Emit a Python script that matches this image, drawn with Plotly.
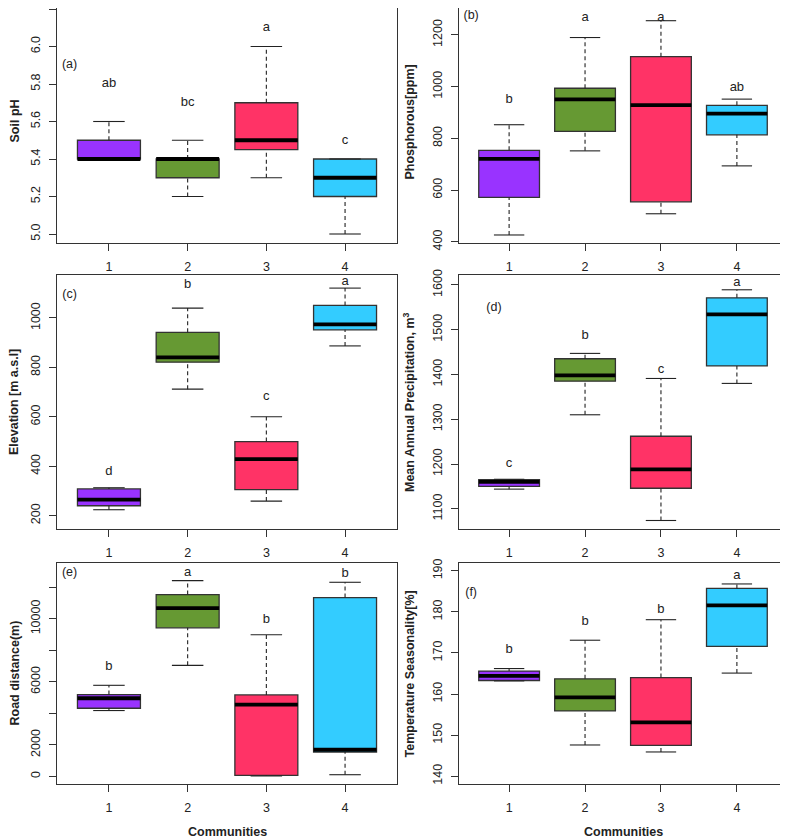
import plotly.graph_objects as go

# community colours
colors = ["#9933FF", "#669933", "#FF3366", "#33CCFF"]
communities = [1, 2, 3, 4]

# box statistics per panel: low whisker, Q1, median, Q3, high whisker
ph_low = [5.4, 5.2, 5.3, 5.0]
ph_q1 = [5.4, 5.3, 5.45, 5.2]
ph_med = [5.4, 5.4, 5.5, 5.3]
ph_q3 = [5.5, 5.4, 5.7, 5.4]
ph_high = [5.6, 5.5, 6.0, 5.4]
ph_letters = ["ab", "bc", "a", "c"]
ph_letter_y = [5.8, 5.7, 6.1, 5.5]

p_low = [427, 752, 509, 694]
p_q1 = [572, 827, 555, 814]
p_med = [721, 951, 929, 896]
p_q3 = [754, 994, 1116, 928]
p_high = [853, 1190, 1255, 952]
p_letters = ["b", "a", "a", "ab"]
p_letter_y = [948, 1268, 1268, 996]

el_low = [224, 712, 259, 887]
el_q1 = [240, 821, 305, 952]
el_med = [265, 841, 429, 974]
el_q3 = [308, 942, 500, 1051]
el_high = [313, 1040, 600, 1121]
el_letters = ["d", "b", "c", "a"]
el_letter_y = [376, 1133, 681, 1145]

pr_low = [1144, 1310, 1074, 1380]
pr_q1 = [1150, 1385, 1146, 1419]
pr_med = [1160, 1398, 1188, 1534]
pr_q3 = [1165, 1435, 1262, 1571]
pr_high = [1166, 1447, 1391, 1589]
pr_letters = ["c", "b", "c", "a"]
pr_letter_y = [1201, 1487, 1410, 1605]

rd_low = [4178, 7047, 20, 105]
rd_q1 = [4325, 9432, 60, 1540]
rd_med = [4958, 10677, 4558, 1688]
rd_q3 = [5190, 11542, 5170, 11352]
rd_high = [5781, 12428, 8989, 12322]
rd_letters = ["b", "a", "b", "b"]
rd_letter_y = [6942, 12913, 9959, 12871]

ts_low = [163.2, 147.6, 145.9, 165.1]
ts_q1 = [163.3, 155.9, 147.5, 171.6]
ts_med = [164.4, 159.2, 153.1, 181.6]
ts_q3 = [165.6, 163.7, 164.0, 185.7]
ts_high = [166.2, 173.1, 178.1, 186.8]
ts_letters = ["b", "b", "b", "a"]
ts_letter_y = [170.7, 177.7, 180.6, 188.9]

panels = [
    dict(label="(a)", title="Soil pH", stats=(ph_low, ph_q1, ph_med, ph_q3, ph_high),
         letters=ph_letters, ly=ph_letter_y, lab_xy=(0.5, 5.9),
         yrange=[4.952, 6.248], ticks=[5.0, 5.2, 5.4, 5.6, 5.8, 6.0, 6.2],
         ticktext=["5.0", "5.2", "5.4", "5.6", "5.8", "6.0", "6.2"]),
    dict(label="(b)", title="Phosphorous[ppm]", stats=(p_low, p_q1, p_med, p_q3, p_high),
         letters=p_letters, ly=p_letter_y, lab_xy=(0.5, 1272),
         yrange=[396, 1335], ticks=[400, 600, 800, 1000, 1200],
         ticktext=["400", "600", "800", "1000", "1200"]),
    dict(label="(c)", title="Elevation [m a.s.l]", stats=(el_low, el_q1, el_med, el_q3, el_high),
         letters=el_letters, ly=el_letter_y, lab_xy=(0.5, 1093),
         yrange=[146, 1174], ticks=[200, 400, 600, 800, 1000],
         ticktext=["200", "400", "600", "800", "1000"]),
    dict(label="(d)", title="Mean Annual Precipitation, m<sup>3</sup>",
         stats=(pr_low, pr_q1, pr_med, pr_q3, pr_high),
         letters=pr_letters, ly=pr_letter_y, lab_xy=(0.8, 1549),
         yrange=[1055, 1622], ticks=[1100, 1200, 1300, 1400, 1500, 1600],
         ticktext=["1100", "1200", "1300", "1400", "1500", "1600"]),
    dict(label="(e)", title="Road distance(m)", stats=(rd_low, rd_q1, rd_med, rd_q3, rd_high),
         letters=rd_letters, ly=rd_letter_y, lab_xy=(0.5, 12913),
         yrange=[-485, 13546], ticks=[0, 2000, 4000, 6000, 8000, 10000, 12000],
         ticktext=["0", "2000", "", "6000", "", "10000", ""]),
    dict(label="(f)", title="Temperature Seasonality[%]", stats=(ts_low, ts_q1, ts_med, ts_q3, ts_high),
         letters=ts_letters, ly=ts_letter_y, lab_xy=(0.5, 184.7),
         yrange=[138.1, 191.9], ticks=[140, 150, 160, 170, 180, 190],
         ticktext=["140", "150", "160", "170", "180", "190"]),
]

# page is 788x839 but the body has an 8px margin, so the figure is shifted
OFF = 8
W, H = 788 - OFF, 839 - OFF
cols_px = [(57, 397), (459, 787)]
rows_px = [(0, 243), (275, 529), (563, 784)]
title_x = [14, 409]

FONT = "Liberation Sans, Arial, sans-serif"
TXT = "#222222"
EDGE = "#333333"

fig = go.Figure()
annotations = []

for k, p in enumerate(panels):
    row, col = divmod(k, 2)
    n = k + 1
    xa = "x" if n == 1 else f"x{n}"
    ya = "y" if n == 1 else f"y{n}"
    low, q1, med, q3, high = p["stats"]

    top_px, bot_px = rows_px[row]
    lo_r, hi_r = p["yrange"]
    per_px = (hi_r - lo_r) / (bot_px - top_px)
    top_f = max(top_px - OFF, 0)
    bot_f = bot_px - OFF
    # trim the part of the range that falls above the page offset
    hi_r = hi_r - per_px * (top_f - (top_px - OFF))
    ydom = [1 - bot_f / H, 1 - top_f / H]
    xdom = [(cols_px[col][0] - OFF) / W, (cols_px[col][1] - OFF) / W]

    for i, c in enumerate(communities):
        # box body
        fig.add_trace(go.Box(
            x=[c], q1=[q1[i]], median=[med[i]], q3=[q3[i]],
            lowerfence=[q1[i]], upperfence=[q3[i]],
            width=0.8, fillcolor=colors[i], line=dict(color=EDGE, width=1.3),
            whiskerwidth=0, boxpoints=False, hoverinfo="skip",
            showlegend=False, xaxis=xa, yaxis=ya))
        # dashed whiskers
        fig.add_trace(go.Scatter(
            x=[c, c, None, c, c], y=[low[i], q1[i], None, q3[i], high[i]],
            mode="lines", line=dict(color="#222222", width=1.1, dash="4px,3px"),
            hoverinfo="skip", showlegend=False, xaxis=xa, yaxis=ya))
        # staples
        fig.add_trace(go.Scatter(
            x=[c - 0.2, c + 0.2, None, c - 0.2, c + 0.2],
            y=[low[i], low[i], None, high[i], high[i]],
            mode="lines", line=dict(color="#222222", width=1.1),
            hoverinfo="skip", showlegend=False, xaxis=xa, yaxis=ya))
        # thick median
        fig.add_trace(go.Scatter(
            x=[c - 0.4, c + 0.4], y=[med[i], med[i]],
            mode="lines", line=dict(color="black", width=3.8),
            hoverinfo="skip", showlegend=False, xaxis=xa, yaxis=ya))

    # significance letters
    fig.add_trace(go.Scatter(
        x=communities, y=p["ly"], text=p["letters"], mode="text",
        textfont=dict(family=FONT, size=13, color=TXT),
        hoverinfo="skip", showlegend=False, xaxis=xa, yaxis=ya))
    # panel label
    fig.add_trace(go.Scatter(
        x=[p["lab_xy"][0]], y=[p["lab_xy"][1]], text=[p["label"]], mode="text",
        textfont=dict(family=FONT, size=12.5, color=TXT),
        hoverinfo="skip", showlegend=False, xaxis=xa, yaxis=ya))

    axis_common = dict(showline=True, mirror=True, linecolor=EDGE, linewidth=1.2,
                       showgrid=False, zeroline=False, ticks="outside", ticklen=7,
                       tickcolor=EDGE, tickwidth=1.1, automargin=False,
                       tickfont=dict(family=FONT, size=12.5, color=TXT))
    fig.layout[xa.replace("x", "xaxis")] = dict(
        domain=xdom, anchor=ya, range=[0.34, 4.66],
        tickvals=communities, ticktext=[str(c) for c in communities],
        ticklabelstandoff=5, **axis_common)
    fig.layout[ya.replace("y", "yaxis")] = dict(
        domain=ydom, anchor=xa, range=[lo_r, hi_r],
        tickvals=p["ticks"], ticktext=p["ticktext"], tickangle=-90,
        ticklabelstandoff=4, **axis_common)

    annotations.append(dict(
        text=f"<b>{p['title']}</b>", textangle=-90, xref="paper", yref="paper",
        x=(title_x[col] - OFF) / W, y=1 - ((top_px + bot_px) / 2 - OFF) / H,
        xanchor="center", yanchor="middle",
        showarrow=False, font=dict(family=FONT, size=12.5, color=TXT)))

for col in range(2):
    annotations.append(dict(
        text="<b>Communities</b>", xref="paper", yref="paper",
        x=((cols_px[col][0] + cols_px[col][1]) / 2 - OFF) / W, y=1 - (832 - OFF) / H,
        xanchor="center", yanchor="middle", showarrow=False,
        font=dict(family=FONT, size=12.5, color=TXT)))

fig.update_layout(
    width=W, height=H, margin=dict(l=0, r=0, t=0, b=0),
    paper_bgcolor="white", plot_bgcolor="white",
    boxmode="overlay", annotations=annotations)

fig.write_html("out.html")
